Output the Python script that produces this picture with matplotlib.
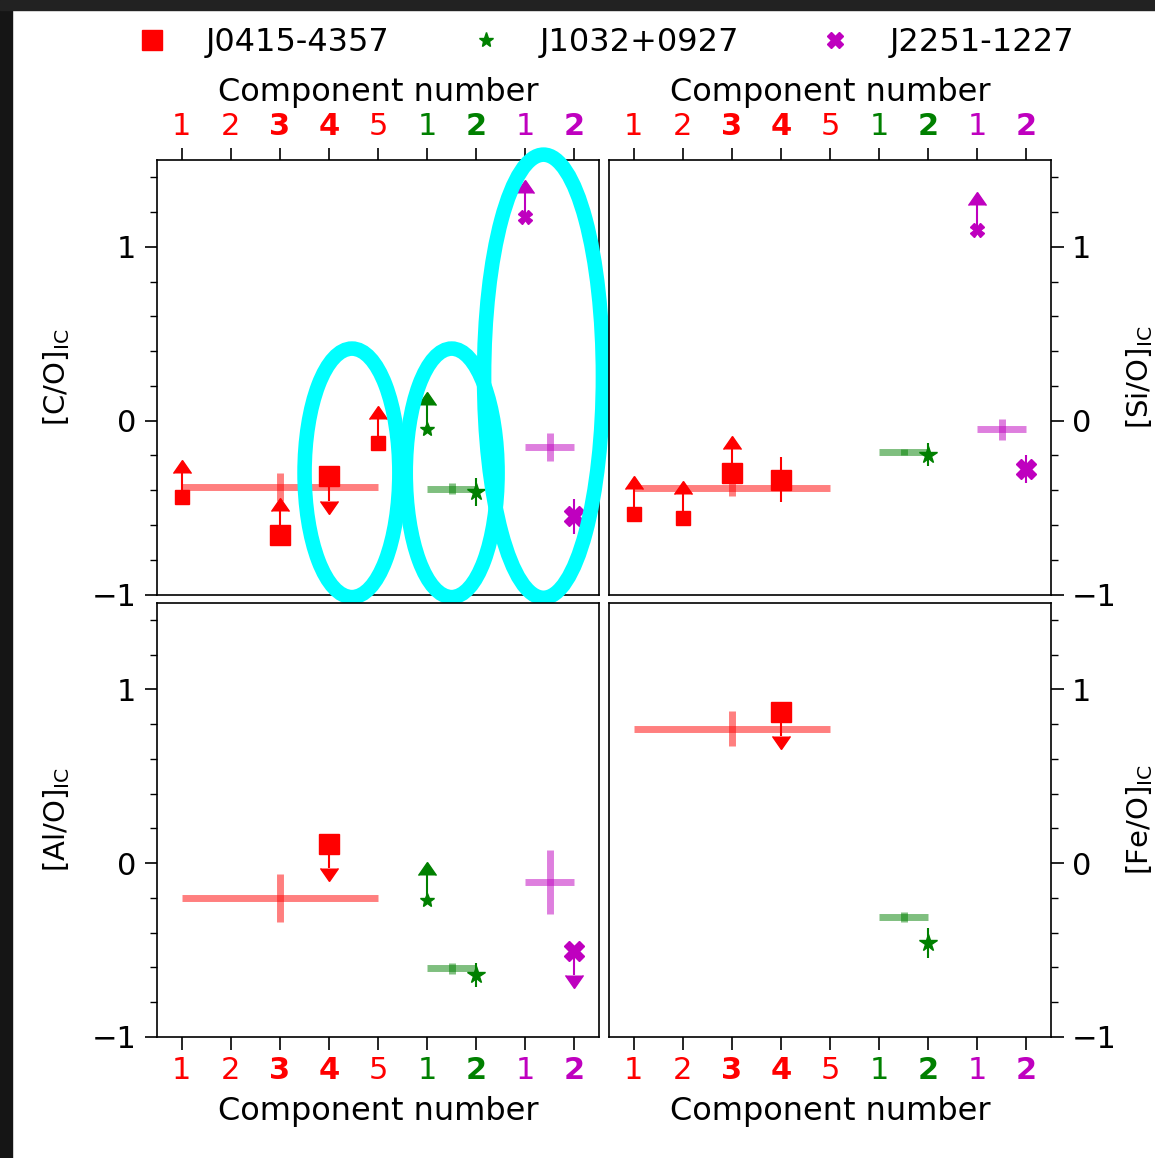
import matplotlib
matplotlib.use("Agg")
import matplotlib.pyplot as plt
from matplotlib.patches import Ellipse, Rectangle
from matplotlib.lines import Line2D
from matplotlib.ticker import MultipleLocator

# ---------------- data ----------------
positions = [1, 2, 3, 4, 5, 6, 7, 8, 9]
tick_labels = ["1", "2", "3", "4", "5", "1", "2", "1", "2"]
tick_colors = ["r", "r", "r", "r", "r", "g", "g", "m", "m"]
tick_bold = [False, False, True, True, False, False, True, False, True]

quasars = ["J0415-4357", "J1032+0927", "J2251-1227"]
q_colors = ["r", "g", "m"]
q_markers = ["s", "*", "X"]
large_positions = [3, 4, 7, 9]

ratio_labels = ["[C/O]$_{\\rm IC}$", "[Si/O]$_{\\rm IC}$",
                "[Al/O]$_{\\rm IC}$", "[Fe/O]$_{\\rm IC}$"]

# components: (position, value, error, kind)  kind: 'lo' lower limit, 'up' upper limit, 'det'
CO_J0415 = [(1, -0.44, 0.14, "lo"), (3, -0.66, 0.14, "lo"), (4, -0.32, 0.14, "up"), (5, -0.13, 0.14, "lo")]
CO_J1032 = [(6, -0.05, 0.14, "lo"), (7, -0.41, 0.08, "det")]
CO_J2251 = [(8, 1.17, 0.14, "lo"), (9, -0.55, 0.10, "det")]
SiO_J0415 = [(1, -0.535, 0.14, "lo"), (2, -0.56, 0.14, "lo"), (3, -0.30, 0.14, "lo"), (4, -0.34, 0.13, "det")]
SiO_J1032 = [(7, -0.195, 0.065, "det")]
SiO_J2251 = [(8, 1.10, 0.14, "lo"), (9, -0.28, 0.08, "det")]
AlO_J0415 = [(4, 0.11, 0.14, "up")]
AlO_J1032 = [(6, -0.21, 0.14, "lo"), (7, -0.645, 0.07, "det")]
AlO_J2251 = [(9, -0.505, 0.14, "up")]
FeO_J0415 = [(4, 0.87, 0.14, "up")]
FeO_J1032 = [(7, -0.46, 0.085, "det")]
FeO_J2251 = []

# integrated (mean) values: (centre position, half width, value, error)
CO_mean = [(3, 2, -0.38, 0.08), (6.5, 0.5, -0.39, 0.03), (8.5, 0.5, -0.15, 0.08)]
SiO_mean = [(3, 2, -0.385, 0.05), (6.5, 0.5, -0.18, 0.02), (8.5, 0.5, -0.05, 0.06)]
AlO_mean = [(3, 2, -0.20, 0.14), (6.5, 0.5, -0.605, 0.03), (8.5, 0.5, -0.11, 0.185)]
FeO_mean = [(3, 2, 0.775, 0.10), (6.5, 0.5, -0.31, 0.03)]

panels = [
    (ratio_labels[0], [CO_J0415, CO_J1032, CO_J2251], CO_mean),
    (ratio_labels[1], [SiO_J0415, SiO_J1032, SiO_J2251], SiO_mean),
    (ratio_labels[2], [AlO_J0415, AlO_J1032, AlO_J2251], AlO_mean),
    (ratio_labels[3], [FeO_J0415, FeO_J1032, FeO_J2251], FeO_mean),
]

# highlight ellipses on [C/O] panel: (x, y, width, height)
ellipses = [(4.47, -0.30, 1.93, 1.43), (6.50, -0.30, 1.87, 1.43), (8.37, 0.256, 2.42, 2.55)]

small_ms = {"s": 10, "*": 10, "X": 10}
large_ms = {"s": 14, "*": 13, "X": 14}

# ---------------- figure ----------------
fig = plt.figure(figsize=(11.55, 11.58), dpi=100)
fig.subplots_adjust(left=0.1359, right=0.9100, top=0.8618, bottom=0.1045,
                    wspace=0.0226, hspace=0.0184)
axes = [fig.add_subplot(2, 2, i + 1) for i in range(4)]

TICK_FS = 22
LABEL_FS = 23

for idx, (ax, (ylab, comps, means)) in enumerate(zip(axes, panels)):
    top = idx < 2
    left = idx % 2 == 0
    ax.set_xlim(0.5, 9.5)
    ax.set_ylim(-1, 1.5)
    for s in ax.spines.values():
        s.set_linewidth(1.2)

    # integrated values
    for (xc, xw, yv, ye), col in zip(means, q_colors):
        ax.errorbar([xc], [yv], xerr=[xw], yerr=[ye], fmt="none", ecolor=col,
                    elinewidth=5, alpha=0.5, capsize=0, zorder=2)

    # components
    for comp, col, mk in zip(comps, q_colors, q_markers):
        for (xp, yv, ye, kind) in comp:
            ms = large_ms[mk] if xp in large_positions else small_ms[mk]
            if kind == "det":
                ax.errorbar([xp], [yv], yerr=[ye], fmt="none", ecolor=col,
                            color=col, elinewidth=1.5, capsize=0, zorder=3)
            else:
                cont = ax.errorbar([xp], [yv], yerr=[ye], fmt="none", ecolor=col,
                                   color=col, elinewidth=1.5, capsize=6.2,
                                   lolims=(kind == "lo"), uplims=(kind == "up"),
                                   zorder=3)
                for cl in cont[1]:
                    if cl.get_marker() in ("_", "|"):
                        cl.set_visible(False)
                    cl.set_markerfacecolor(col)
                    cl.set_markeredgecolor(col)
            ax.plot([xp], [yv], marker=mk, ms=ms, color=col, mec=col,
                    mew=1, ls="none", zorder=4)

    # x axis
    ax.set_xticks(positions)
    ax.set_xticklabels(tick_labels)
    ax.tick_params(axis="x", direction="out", length=9, width=1.2, pad=5,
                   labelsize=TICK_FS)
    for tk, c, b in zip(ax.xaxis.get_major_ticks(), tick_colors, tick_bold):
        for lab in (tk.label1, tk.label2):
            lab.set_color(c)
            lab.set_fontweight("bold" if b else "normal")
    if top:
        ax.xaxis.set_ticks_position("top")
        ax.xaxis.set_label_position("top")
    else:
        ax.xaxis.set_ticks_position("bottom")
    ax.set_xlabel("Component number", fontsize=LABEL_FS, labelpad=7.5)

    # y axis
    ax.yaxis.set_major_locator(MultipleLocator(1))
    ax.yaxis.set_minor_locator(MultipleLocator(0.2))
    if left:
        ax.yaxis.set_ticks_position("left")
        ax.yaxis.set_label_position("left")
    else:
        ax.yaxis.set_ticks_position("right")
        ax.yaxis.set_label_position("right")
    ax.tick_params(axis="y", which="major", direction="out", length=9, width=1.2,
                   pad=6, labelsize=TICK_FS)
    ax.tick_params(axis="y", which="minor", direction="out", length=5, width=1.0)
    ax.set_ylabel(ylab, fontsize=21, labelpad=14 if left else 5)

# highlight ellipses
for (ex, ey, ew, eh) in ellipses:
    axes[0].add_patch(Ellipse((ex, ey), ew, eh, fill=False, ec="#00ffff",
                              lw=10.5, clip_on=False, zorder=10))

# legend
handles = [
    Line2D([], [], ls="none", marker="s", ms=14, color="r"),
    Line2D([], [], ls="none", marker="*", ms=11, color="g"),
    Line2D([], [], ls="none", marker="X", ms=12, color="m"),
]
fig.legend(handles, quasars, loc="center", ncol=3, frameon=False,
           bbox_to_anchor=(0.517, 0.963), fontsize=23, columnspacing=2.0,
           handletextpad=0.7)

# dark screenshot frame
fig.patches.append(Rectangle((0, 0), 12 / 1155, 1, transform=fig.transFigure,
                             color="#151515", zorder=20))
fig.patches.append(Rectangle((0, 1 - 10 / 1158), 1, 10 / 1158, transform=fig.transFigure,
                             color="#222222", zorder=20))

fig.savefig("out.png", dpi=100)
